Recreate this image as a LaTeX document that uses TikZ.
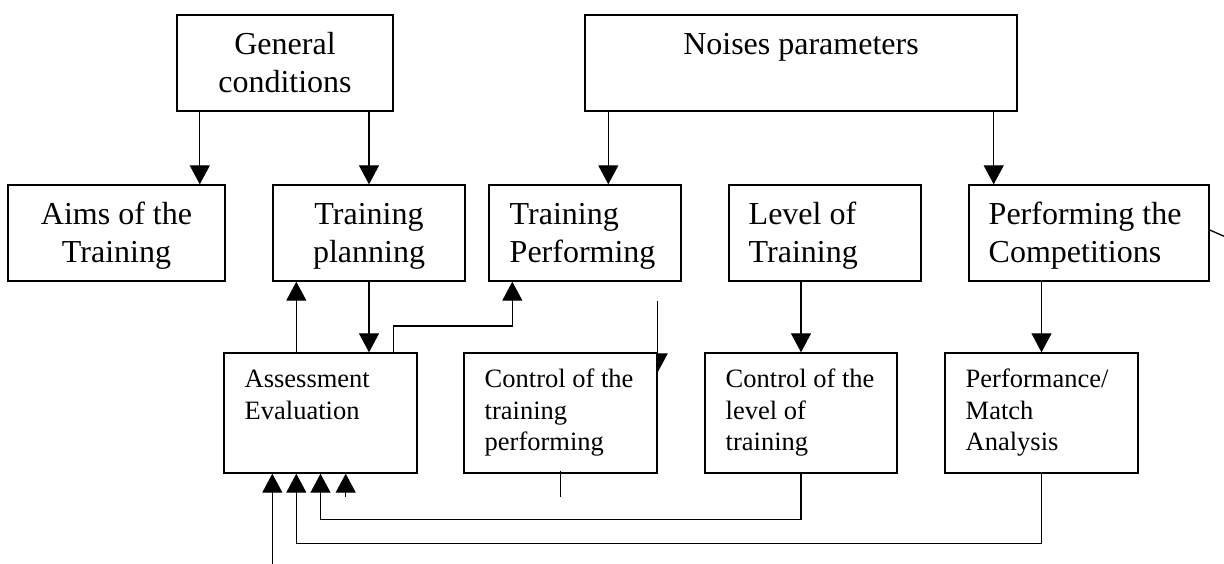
\documentclass[tikz,border=0pt]{standalone}
\usepackage{fontspec}
\setmainfont{Liberation Serif}
\usetikzlibrary{arrows.meta}
\pgfdeclarelayer{background}
\pgfsetlayers{background,main}
\newcommand{\rows}[2][l]{\begin{tabular}[t]{@{}#1@{}}#2\end{tabular}}
\tikzset{
  blk/.style 2 args={draw, fill=white, line width=.7pt, inner sep=0pt,
    minimum width=#1*0.5pt, minimum height=#2*0.5pt},
  big/.style={font=\fontsize{16}{18.85}\selectfont, inner sep=0pt},
  sml/.style={font=\fontsize{13.25}{15.85}\selectfont, inner sep=0pt},
  arr/.style={line width=.65pt, -{Triangle[length=9.5pt,width=10pt]}},
  ln/.style={line width=.65pt},
}
\begin{document}
\begin{tikzpicture}[x=0.5pt, y=-0.5pt] % {{{
\useasboundingbox (0,0) rectangle (1224,563);
% Inputs {{{
\node[blk={216}{96}] (gc) at (285,63) {};
\node[big, anchor=base] (gct) at ([shift={(0,40)}]gc.north) {\rows[c]{General\\conditions}};
\node[blk={432}{96}] (noise) at (801,63) {};
\node[big, anchor=base] (noiset) at ([shift={(0,40)}]noise.north) {Noises parameters};
% }}}
% Middle row {{{
\node[blk={217}{96}] (aims) at (116.5,233) {};
\node[big, anchor=base] (aimst) at ([shift={(0,40)}]aims.north) {\rows[c]{Aims of the\\Training}};
\node[blk={192}{96}] (tp) at (369,233) {};
\node[big, anchor=base] (tpt) at ([shift={(0,40)}]tp.north) {\rows[c]{Training\\planning}};
\node[blk={192}{96}] (tperf) at (585,233) {};
\node[big, anchor=base west] (tperft) at ([shift={(21,40)}]tperf.north west) {\rows{Training\\Performing}};
\node[blk={192}{96}] (lvl) at (825,233) {};
\node[big, anchor=base west] (lvlt) at ([shift={(20,40)}]lvl.north west) {\rows{Level of\\Training}};
\node[blk={240}{96}] (comp) at (1089,233) {};
\node[big, anchor=base west] (compt) at ([shift={(20,40)}]comp.north west) {\rows{Performing the\\Competitions}};
% }}}
% Control row {{{
\node[blk={193}{120}] (ass) at (320.5,413) {};
\node[sml, anchor=base west] (asst) at ([shift={(21,35)}]ass.north west) {\rows{Assessment\\Evaluation}};
\node[blk={193}{120}] (cperf) at (560.5,413) {};
\node[sml, anchor=base west] (cperft) at ([shift={(21,35)}]cperf.north west) {\rows{Control of the\\training\\performing}};
\node[blk={192}{120}] (clvl) at (801,413) {};
\node[sml, anchor=base west] (clvlt) at ([shift={(21,35)}]clvl.north west) {\rows{Control of the\\level of\\training}};
\node[blk={193}{120}] (match) at (1041.5,413) {};
\node[sml, anchor=base west] (matcht) at ([shift={(21,35)}]match.north west) {\rows{Performance/\\Match\\Analysis}};
% }}}
% Connectors {{{
\coordinate (g1) at ([shift={(23.5,0)}]gc.south west);
\coordinate (n1) at ([shift={(24,0)}]noise.south west);
\coordinate (n2) at ([shift={(-24,0)}]noise.south east);
\coordinate (a1) at ([shift={(73,0)}]ass.north west);
\coordinate (a2) at ([shift={(-24.5,0)}]ass.north east);
\coordinate (t1) at ([shift={(24,0)}]tperf.south west);
\coordinate (c1) at ([shift={(0,-51)}]cperf.north east);
\coordinate (a3) at ([shift={(73,0)}]ass.south west);
\coordinate (a4) at ([shift={(49,0)}]ass.south west);
\coordinate (a5) at ([shift={(-72,0)}]ass.south east);
\coordinate (feed) at ([shift={(0,90)}]a4);
\draw[arr] (g1) -- (g1 |- aims.north);
\draw[arr] (gc.south -| tp.north) -- (tp.north);
\draw[arr] (n1) -- (n1 |- tperf.north);
\draw[arr] (n2) -- (n2 |- comp.north);
\draw[arr] (a1) -- (a1 |- tp.south);
\draw[arr] (tp.south) -- (tp.south |- ass.north);
\draw[arr] (a2) -- ++(0,-26.3) -| (t1);
\begin{pgfonlayer}{background}
\draw[arr] (c1) -- ([shift={(0,20)}]cperf.north east);
\end{pgfonlayer}
\draw[ln] ([shift={(0,-3)}]cperf.south) -- ++(0,26);
\draw[arr] (clvl.north |- lvl.south) -- (clvl.north);
\draw[arr] (comp.south -| match.north) -- (match.north);
\draw[arr] (clvl.south) -- ++(0,46) -| (ass.south);
\draw[arr] (match.south) -- ++(0,70) -| (a3);
\draw[arr] (feed) -- (a4);
\draw[arr] ([shift={(0,23)}]a5) -- (a5);
\draw[ln] ([shift={(0,-3)}]comp.east) -- ++(16,7);
% }}}
\end{tikzpicture} % }}}
\end{document}
